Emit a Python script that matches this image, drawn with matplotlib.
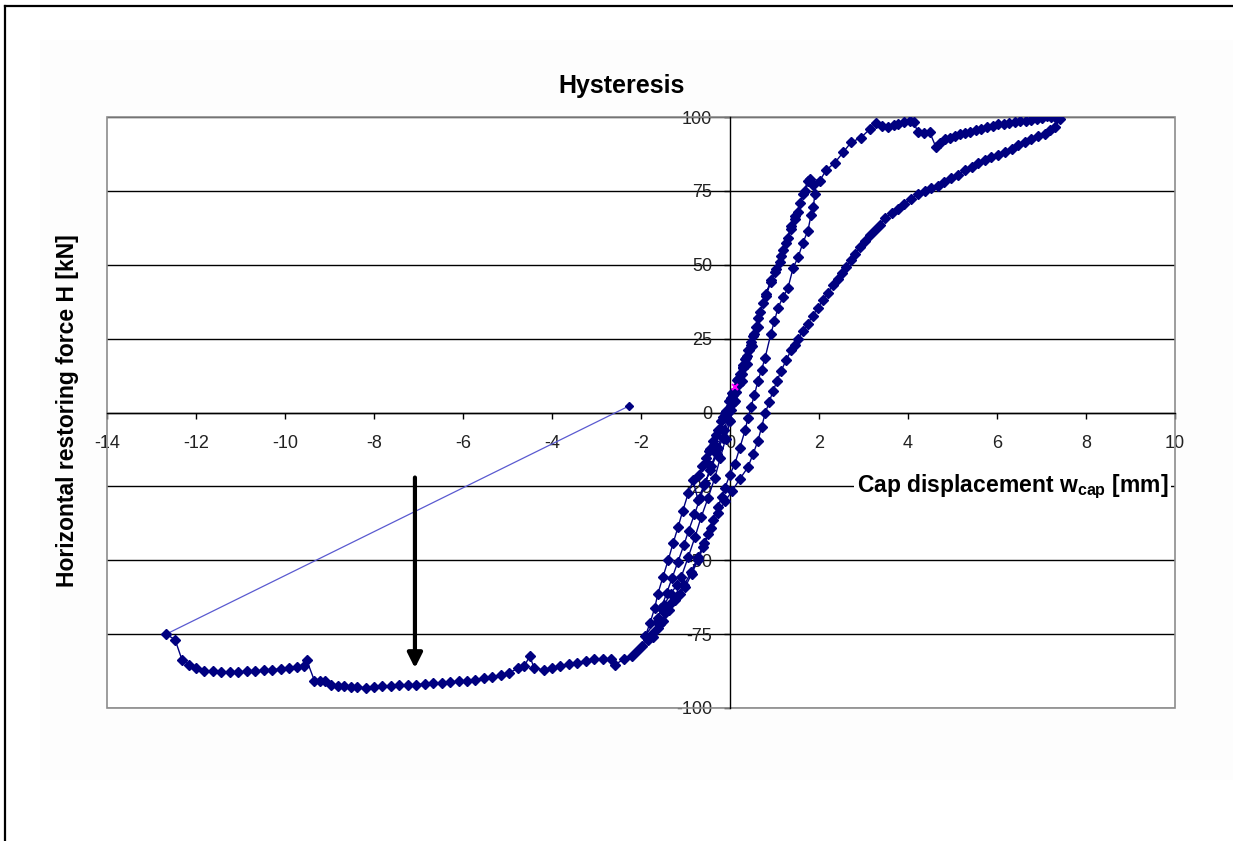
import matplotlib
matplotlib.use("Agg")
import matplotlib.pyplot as plt
import numpy as np
from matplotlib.patches import Rectangle
from matplotlib.lines import Line2D

plt.rcParams['font.family'] = ['Liberation Sans', 'DejaVu Sans']
plt.rcParams['mathtext.fontset'] = 'custom'
plt.rcParams['mathtext.rm'] = 'Liberation Sans'
plt.rcParams['mathtext.bf'] = 'Liberation Sans:bold'
plt.rcParams['axes.unicode_minus'] = False

# --- data (x: cap displacement mm, y: force kN) ---
# small cycles around the origin
cyc0_x = [-0.10, 0.05, 0.20, 0.30, 0.18, 0.02, -0.15, -0.32, -0.48, -0.62, -0.45, -0.28,
          -0.12, 0.05, 0.22, 0.36, 0.48, 0.34, 0.16, -0.02, -0.20, -0.38, -0.55, -0.70]
cyc0_y = [0.0, 5.0, 11.0, 15.5, 11.5, 5.0, -1.5, -7.5, -13.0, -18.0, -12.5, -6.0,
          0.0, 6.5, 13.0, 18.5, 23.0, 18.0, 11.0, 4.0, -3.0, -9.5, -15.5, -21.0]

# second small cycle, a bit to the right
cyc1_x = [-0.52, -0.36, -0.22, -0.08, 0.06, 0.18, 0.30, 0.42, 0.55, 0.62, 0.50, 0.38, 0.26,
          0.12, -0.02, -0.16, -0.30, -0.44, -0.58, -0.72]
cyc1_y = [-17.0, -11.0, -5.5, 0.5, 6.0, 11.0, 16.0, 21.0, 26.5, 29.0, 22.5, 16.5, 10.5,
          4.0, -2.5, -8.5, -14.0, -19.5, -24.5, -29.5]

# first push to the negative side (left strand)
down1_x = [-0.83, -0.94, -1.06, -1.17, -1.28, -1.39, -1.51, -1.62, -1.69, -1.80, -1.90]
down1_y = [-23.0, -27.4, -33.2, -38.9, -44.3, -50.0, -55.8, -61.3, -66.0, -71.4, -75.5]

# reload up to about +79
up1_x = [-1.62, -1.48, -1.33, -1.20, -1.10, -0.94, -0.79, -0.65, -0.49, -0.34, -0.22, -0.10,
         0.00, 0.10, 0.20, 0.30, 0.40, 0.52, 0.63, 0.74, 0.81, 0.92, 1.01, 1.12, 1.19, 1.30,
         1.37, 1.45, 1.53, 1.64, 1.75]
up1_y = [-69.4, -65.0, -61.3, -58.5, -55.8, -49.0, -42.3, -35.5, -28.8, -22.0, -15.5, -9.0,
         -3.0, 3.5, 9.5, 15.0, 21.0, 26.0, 32.0, 37.0, 40.0, 45.0, 47.5, 51.0, 55.0, 59.0,
         63.0, 65.5, 68.0, 74.0, 78.5]

# unload back to about -76
down2_x = [1.87, 1.91, 1.87, 1.82, 1.75, 1.64, 1.53, 1.42, 1.30, 1.19, 1.08, 1.00, 0.92, 0.79,
           0.71, 0.63, 0.55, 0.47, 0.40, 0.34, 0.22, 0.11, 0.00, -0.11, -0.19, -0.27, -0.38,
           -0.49, -0.60, -0.72, -0.86, -1.01, -1.12, -1.24, -1.37, -1.50, -1.62, -1.72]
down2_y = [77.0, 74.0, 69.4, 66.7, 61.5, 57.5, 52.5, 49.0, 42.0, 39.0, 35.5, 31.0, 26.7, 18.6,
           14.5, 10.8, 6.0, 1.7, -2.0, -6.0, -12.0, -17.3, -21.0, -25.4, -28.5, -32.0, -36.5,
           -41.0, -45.5, -50.0, -54.5, -59.2, -61.5, -63.6, -67.0, -70.5, -73.0, -76.0]

# reload through the bundle
up2_x = [-1.65, -1.54, -1.42, -1.30, -1.17, -1.04, -0.93, -0.80, -0.67, -0.56, -0.42, -0.28,
         -0.14, 0.02, 0.14, 0.26, 0.38, 0.48, 0.58, 0.68, 0.80, 0.92, 1.03, 1.14, 1.25, 1.36,
         1.47, 1.58, 1.68, 1.80]
up2_y = [-71.0, -66.0, -61.0, -56.0, -50.5, -45.0, -40.0, -34.5, -29.0, -24.0, -18.0, -12.0,
         -6.0, 1.0, 7.0, 13.0, 19.0, 24.0, 29.0, 34.0, 39.5, 44.0, 48.5, 53.0, 57.5, 62.0,
         66.5, 71.0, 75.0, 79.0]

# big positive excursion
peak_x = [2.02, 2.16, 2.36, 2.54, 2.72, 2.94, 3.15, 3.28, 3.42, 3.55, 3.68, 3.78, 3.92, 4.04,
          4.13, 4.22, 4.36, 4.49, 4.63, 4.73, 4.83, 4.95, 5.06, 5.17, 5.28, 5.40, 5.52, 5.65,
          5.78, 5.90, 6.02, 6.15, 6.28, 6.40, 6.52, 6.65, 6.77, 6.90, 7.02, 7.12, 7.22, 7.33,
          7.42]
peak_y = [78.5, 82.0, 84.6, 88.0, 91.4, 93.0, 96.0, 98.0, 97.0, 96.5, 97.3, 97.8, 98.2, 98.8,
          98.4, 94.8, 94.5, 94.8, 89.7, 91.2, 92.4, 93.0, 93.7, 94.2, 94.6, 95.0, 95.5, 96.0,
          96.6, 97.1, 97.5, 97.8, 98.0, 98.2, 98.5, 98.8, 99.0, 99.4, 99.8, 100.2, 100.0, 99.8,
          99.3]

# unloading from the positive peak
unload_x = [7.30, 7.18, 7.07, 6.92, 6.77, 6.62, 6.47, 6.33, 6.18, 6.02, 5.87, 5.72, 5.57, 5.43,
            5.28, 5.12, 4.97, 4.82, 4.67, 4.52, 4.38, 4.22, 4.07, 3.92, 3.78, 3.63, 3.48, 3.37,
            3.26, 3.14, 3.03, 2.92, 2.81, 2.71, 2.61, 2.52, 2.43, 2.31, 2.20, 2.09, 1.98, 1.86,
            1.75, 1.64, 1.53, 1.45, 1.37, 1.26, 1.15, 1.06, 0.97, 0.88, 0.79, 0.71, 0.63, 0.52,
            0.40, 0.22, 0.05, -0.11, -0.27, -0.42, -0.58, -0.72, -0.88, -1.03, -1.20, -1.32]
unload_y = [96.5, 95.5, 94.4, 93.5, 92.7, 91.5, 90.4, 89.2, 88.0, 87.2, 86.3, 85.3, 84.3, 83.1,
            81.9, 80.5, 79.2, 78.0, 76.8, 76.0, 75.1, 73.8, 72.4, 70.7, 69.0, 67.4, 65.7, 63.6,
            61.6, 59.9, 58.2, 56.0, 53.8, 51.5, 49.1, 47.2, 45.3, 43.0, 40.6, 38.1, 35.5, 32.8,
            30.1, 27.6, 25.0, 23.0, 21.0, 17.6, 14.2, 10.8, 7.4, 3.6, -0.3, -4.9, -9.5, -14.0,
            -18.6, -22.5, -26.5, -30.0, -34.0, -39.0, -44.0, -49.0, -54.0, -58.5, -62.0, -64.5]

# final large negative excursion
neg_x = [-1.45, -1.58, -1.72, -1.85, -1.98, -2.10, -2.20, -2.39, -2.58, -2.67, -2.86, -3.05,
         -3.24, -3.43, -3.62, -3.81, -4.00, -4.19, -4.40, -4.50, -4.62, -4.77, -4.96, -5.15,
         -5.34, -5.53, -5.72, -5.91, -6.10, -6.29, -6.48, -6.67, -6.86, -7.05, -7.24, -7.43,
         -7.62, -7.81, -8.00, -8.19, -8.38, -8.52, -8.67, -8.82, -8.96, -9.10, -9.22, -9.34,
         -9.51, -9.58, -9.72, -9.91, -10.10, -10.29, -10.48, -10.67, -10.86, -11.05, -11.24,
         -11.43, -11.62, -11.81, -11.99, -12.15, -12.31, -12.47, -12.67]
neg_y = [-68.0, -71.5, -74.5, -77.0, -79.0, -80.8, -82.4, -83.5, -85.3, -83.5, -83.3, -83.5,
         -84.2, -84.7, -85.2, -85.8, -86.3, -87.0, -86.6, -82.4, -85.8, -86.6, -88.1, -89.0,
         -89.6, -90.0, -90.4, -90.7, -91.0, -91.2, -91.4, -91.5, -91.8, -92.1, -92.2, -92.3,
         -92.5, -92.7, -92.9, -93.1, -93.0, -92.8, -92.7, -92.4, -92.1, -90.9, -90.8, -90.7,
         -83.9, -85.8, -86.2, -86.6, -86.8, -87.0, -87.3, -87.5, -87.6, -87.8, -87.8, -87.8,
         -87.6, -87.4, -86.6, -85.3, -83.9, -76.9, -75.0]

# last point (thin line jump) and the single magenta point
jump_x = [-12.67, -2.27]
jump_y = [-75.0, 2.2]
pink_x = [0.11]
pink_y = [8.5]

main_x = cyc0_x + cyc1_x + down1_x + up1_x + down2_x + up2_x + peak_x + unload_x + neg_x
main_y = cyc0_y + cyc1_y + down1_y + up1_y + down2_y + up2_y + peak_y + unload_y + neg_y

W, H = 1233, 841
fig = plt.figure(figsize=(W / 100, H / 100), dpi=100)
fig.patch.set_facecolor('white')

# faint chart-area background and the page frame
fig.add_artist(Rectangle((40 / W, 1 - 780 / H), 1 - 40 / W, (780 - 40) / H,
                         transform=fig.transFigure, facecolor='#fdfdfd', edgecolor='none', zorder=-5))
fig.add_artist(Line2D([5 / W, 1], [1 - 6 / H, 1 - 6 / H], color='black', lw=1.6))
fig.add_artist(Line2D([5 / W, 5 / W], [0, 1 - 6 / H], color='black', lw=1.6))

ax = fig.add_axes([107 / W, 1 - 708 / H, (1175 - 107) / W, (708 - 117) / H])
ax.set_facecolor('white')
ax.set_xlim(-14, 10)
ax.set_ylim(-100, 100)
ax.set_xticks(np.arange(-14, 11, 2))
ax.set_yticks(np.arange(-100, 101, 25))

ax.yaxis.grid(True, color='black', lw=1)
ax.set_axisbelow(True)

for s in ['top', 'right']:
    ax.spines[s].set_visible(False)
ax.spines['left'].set_position(('data', 0))
ax.spines['bottom'].set_position(('data', 0))
for s in ['left', 'bottom']:
    ax.spines[s].set_color('black')
    ax.spines[s].set_linewidth(1)
ax.add_patch(Rectangle((0, 0), 1, 1, transform=ax.transAxes, fill=False,
                       edgecolor='#8c8c8c', lw=1.2, zorder=1, clip_on=False))

ax.tick_params(axis='both', direction='out', length=4, width=1, colors='black',
               labelsize=13, labelcolor='#222222')
ax.tick_params(axis='x', pad=12)
ax.tick_params(axis='y', pad=9)

# series
ax.plot(jump_x, jump_y, color='#5a5ad0', lw=0.9, zorder=3)
ax.plot(jump_x[1:], jump_y[1:], ls='none', marker='D', ms=4.5, color='#000080', zorder=4)
ax.plot(main_x, main_y, color='#000080', lw=1, marker='D', ms=5,
        mec='#000080', mfc='#000080', zorder=4)
ax.plot(pink_x, pink_y, ls='none', marker='x', ms=5, mew=1.5, color='#ff00ff', zorder=5)

# arrow
ax.annotate('', xy=(-7.08, -86.5), xytext=(-7.08, -22),
            arrowprops=dict(arrowstyle='-|>', lw=3, color='black', mutation_scale=22,
                            shrinkA=0, shrinkB=0), zorder=6)

# texts
fig.text(622 / W, 1 - 86 / H, 'Hysteresis', ha='center', va='center',
         fontsize=18, fontweight='bold')
fig.text(1168 / W, 1 - 487 / H, r'Cap displacement w$_{\mathbf{cap}}$ [mm]', ha='right', va='center',
         fontsize=16.5, fontweight='bold',
         bbox=dict(facecolor='white', edgecolor='none', pad=2))
fig.text(68 / W, 1 - 411 / H, 'Horizontal restoring force H [kN]', ha='center', va='center',
         rotation=90, fontsize=16.5, fontweight='bold')

fig.savefig('out.png', dpi=100)
